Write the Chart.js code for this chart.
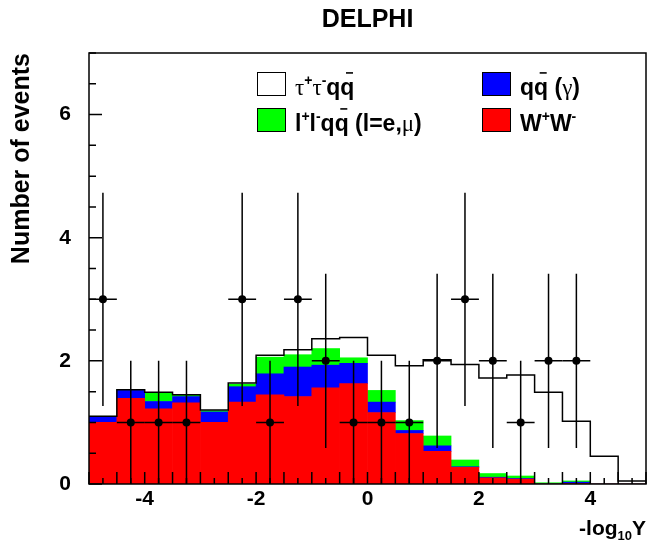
<!DOCTYPE html>
<html>
<head>
<meta charset="utf-8">
<script src="https://cdn.jsdelivr.net/npm/chart.js@4.4.1/dist/chart.umd.min.js"></script>
<style>
  html, body { margin: 0; padding: 0; background: #fff; }
  #wrap { width: 650px; height: 542px; }
</style>
</head>
<body>
<div id="wrap"><canvas id="delphi"></canvas></div>
<script>
// bins of -log10(Y), width 0.5
var binCenters = [-4.75, -4.25, -3.75, -3.25, -2.75, -2.25, -1.75, -1.25, -0.75, -0.25,
                  0.25, 0.75, 1.25, 1.75, 2.25, 2.75, 3.25, 3.75, 4.25, 4.75]
var binWidth = 0.5

// simulation, stacked from the bottom up
var wwEvents     = [1.00, 1.39, 1.22, 1.32, 1.00, 1.33, 1.45, 1.42, 1.56, 1.63,
                    1.16, 0.82, 0.53, 0.27, 0.10, 0.08, 0.00, 0.01, 0.00, 0.00]
var qqEvents     = [0.09, 0.13, 0.12, 0.10, 0.17, 0.25, 0.34, 0.48, 0.37, 0.33,
                    0.17, 0.05, 0.09, 0.01, 0.01, 0.01, 0.00, 0.02, 0.00, 0.00]
var llqqEvents   = [0.01, 0.01, 0.14, 0.02, 0.02, 0.04, 0.27, 0.20, 0.27, 0.09,
                    0.19, 0.16, 0.16, 0.11, 0.06, 0.04, 0.02, 0.02, 0.00, 0.00]
var tautauEvents = [0.00, 0.00, 0.01, 0.01, 0.01, 0.02, 0.03, 0.08, 0.16, 0.33,
                    0.57, 0.89, 1.24, 1.55, 1.55, 1.64, 1.47, 0.97, 0.45, 0.05]

// observed events
var dataEvents = [3, 1, 1, 1, 0, 3, 1, 3, 2, 1, 1, 1, 2, 3, 2, 1, 2, 2, 0, 0]

var xTicks = [-4, -2, 0, 2, 4]
var yTicks = [0, 2, 4, 6]

var FONT = '"Liberation Sans", Arial, Helvetica, sans-serif'
var SYM = '"Liberation Serif", "DejaVu Serif", serif'

function barSet(label, values, color) {
  return {
    type: 'bar',
    label: label,
    stack: 'mc',
    data: binCenters.map(function(c, i) { return {x: c, y: values[i]} }),
    backgroundColor: color,
    borderWidth: 0,
    barPercentage: 1,
    categoryPercentage: 1
  }
}

// outline of the full stack, drawn as steps from the bin edges
var outline = []
for (var i = 0; i < binCenters.length; i++) {
  var tot = wwEvents[i] + qqEvents[i] + llqqEvents[i] + tautauEvents[i]
  outline.push({x: binCenters[i] - binWidth / 2, y: tot})
  if (i == binCenters.length - 1) outline.push({x: binCenters[i] + binWidth / 2, y: tot})
}

var points = []
for (var i = 0; i < binCenters.length; i++) {
  if (dataEvents[i] > 0) points.push({x: binCenters[i], y: dataEvents[i]})
}

// legend entries: [text, kind] pieces
var legend = [
  {col: 0, row: 0, color: '#ffffff',
   text: [['τ', 'sym'], ['+', 'sup'], ['τ', 'sym'], ['-', 'sup'], ['q', ''], ['q', 'bar']]},
  {col: 0, row: 1, color: '#00ff00',
   text: [['l', ''], ['+', 'sup'], ['l', ''], ['-', 'sup'], ['q', ''], ['q', 'bar'],
          [' (l=e,', ''], ['μ', 'sym'], [')', '']]},
  {col: 1, row: 0, color: '#0000ff',
   text: [['q', ''], ['q', 'bar'], [' (', ''], ['γ', 'sym'], [')', '']]},
  {col: 1, row: 1, color: '#ff0000',
   text: [['W', ''], ['+', 'sup'], ['W', ''], ['-', 'sup']]}
]

function drawRich(ctx, pieces, x, base, size) {
  pieces.forEach(function(p) {
    var t = p[0], kind = p[1]
    var fs = (kind == 'sup' || kind == 'sub') ? Math.round(size * 0.62) : size
    ctx.font = (kind == 'sym' ? '' : 'bold ') + fs + 'px ' + (kind == 'sym' ? SYM : FONT)
    var dy = kind == 'sup' ? -size * 0.42 : (kind == 'sub' ? size * 0.26 : 0)
    ctx.fillText(t, x, base + dy)
    var w = ctx.measureText(t).width
    if (kind == 'bar') {
      ctx.beginPath()
      ctx.lineWidth = 1.6
      ctx.moveTo(x + w * 0.4, base - size * 0.96)
      ctx.lineTo(x + w * 0.9, base - size * 0.96)
      ctx.stroke()
    }
    x += w
  })
}

var rootStyle = {
  id: 'rootStyle',
  afterDatasetsDraw: function(chart) {
    var ctx = chart.ctx, xs = chart.scales.x, ys = chart.scales.y
    ctx.save()
    ctx.strokeStyle = '#000'
    ctx.lineWidth = 1.5
    for (var i = 0; i < binCenters.length; i++) {
      var n = dataEvents[i]
      if (n <= 0) continue
      var err = Math.sqrt(n)
      var px = xs.getPixelForValue(binCenters[i]), py = ys.getPixelForValue(n)
      ctx.beginPath()
      ctx.moveTo(xs.getPixelForValue(binCenters[i] - binWidth / 2), py)
      ctx.lineTo(xs.getPixelForValue(binCenters[i] + binWidth / 2), py)
      ctx.moveTo(px, ys.getPixelForValue(n + err))
      ctx.lineTo(px, ys.getPixelForValue(Math.max(0, n - err)))
      ctx.stroke()
    }
    ctx.restore()
  },
  afterDraw: function(chart) {
    var ctx = chart.ctx, a = chart.chartArea, xs = chart.scales.x, ys = chart.scales.y
    ctx.save()
    ctx.strokeStyle = '#000'
    ctx.fillStyle = '#000'

    // frame
    ctx.lineWidth = 1.5
    ctx.strokeRect(a.left, a.top, a.right - a.left, a.bottom - a.top)

    // inward ticks
    ctx.lineWidth = 1.5
    ctx.beginPath()
    for (var v = 0; v <= 7.001; v += 0.5) {
      var py = ys.getPixelForValue(v)
      var len = (Math.abs(v % 2) < 0.001) ? 13 : 7
      ctx.moveTo(a.left, py)
      ctx.lineTo(a.left + len, py)
    }
    for (var v = -5; v <= 5.001; v += 0.25) {
      var px = xs.getPixelForValue(v)
      var len = (Math.abs(v % 0.5) < 0.001) ? 12 : 6
      ctx.moveTo(px, a.bottom)
      ctx.lineTo(px, a.bottom - len)
    }
    ctx.stroke()

    // title
    ctx.font = 'bold 25px ' + FONT
    ctx.textAlign = 'center'
    ctx.textBaseline = 'alphabetic'
    ctx.fillText('DELPHI', (a.left + a.right) / 2, 27)

    // y title
    ctx.save()
    ctx.translate(29, a.top)
    ctx.rotate(-Math.PI / 2)
    ctx.textAlign = 'right'
    ctx.font = 'bold 25px ' + FONT
    ctx.fillText('Number of events', 0, 0)
    ctx.restore()

    // x title, right aligned
    ctx.textAlign = 'left'
    var xt = [['-log', ''], ['10', 'sub'], ['Y', '']]
    ctx.font = 'bold 21px ' + FONT
    var w1 = ctx.measureText('-log').width + ctx.measureText('Y').width
    ctx.font = 'bold 13px ' + FONT
    w1 += ctx.measureText('10').width
    drawRich(ctx, xt, 646 - w1, 535, 21)

    // legend
    legend.forEach(function(e) {
      var bx = e.col == 0 ? 257 : 482
      var by = e.row == 0 ? 72 : 108
      ctx.fillStyle = e.color
      ctx.fillRect(bx, by, 28, 23)
      ctx.lineWidth = 1
      ctx.strokeStyle = '#000'
      ctx.strokeRect(bx + 0.5, by + 0.5, 28, 23)
      ctx.fillStyle = '#000'
      drawRich(ctx, e.text, bx + 38, by + 23, 23)
    })
    ctx.restore()
  }
}

var chart = new Chart(document.getElementById('delphi'), {
  type: 'bar',
  data: {
    datasets: [
      {
        type: 'line', label: 'data', stack: 'data', data: points,
        showLine: false, pointRadius: 4, pointBackgroundColor: '#000',
        pointBorderColor: '#000', pointBorderWidth: 0
      },
      {
        type: 'line', label: 'total', stack: 'outline', data: outline,
        stepped: true, borderColor: '#000', borderWidth: 1.5, pointRadius: 0, fill: false
      },
      barSet('W+W-', wwEvents, '#ff0000'),
      barSet('qq(γ)', qqEvents, '#0000ff'),
      barSet('l+l-qq', llqqEvents, '#00ff00'),
      barSet('τ+τ-qq', tautauEvents, '#ffffff')
    ]
  },
  plugins: [rootStyle],
  options: {
    responsive: true,
    maintainAspectRatio: false,
    animation: false,
    layout: {padding: {top: 53, right: 1, left: 0, bottom: 0}},
    plugins: {legend: {display: false}, tooltip: {enabled: false}, title: {display: false}},
    scales: {
      x: {
        type: 'linear', min: -5, max: 5, offset: false, stacked: true,
        grid: {display: false, drawTicks: false},
        border: {display: false},
        afterBuildTicks: function(s) { s.ticks = xTicks.map(function(v) { return {value: v} }) },
        afterFit: function(s) { s.height = 58 },
        ticks: {color: '#000', padding: 3, maxRotation: 0, font: {family: FONT, size: 21, weight: 'bold'}}
      },
      y: {
        min: 0, max: 7, stacked: true,
        grid: {display: false, drawTicks: false},
        border: {display: false},
        afterBuildTicks: function(s) { s.ticks = yTicks.map(function(v) { return {value: v} }) },
        afterFit: function(s) { s.width = 89 },
        ticks: {color: '#000', padding: 18, font: {family: FONT, size: 21, weight: 'bold'}}
      }
    }
  }
})
</script>
</body>
</html>
